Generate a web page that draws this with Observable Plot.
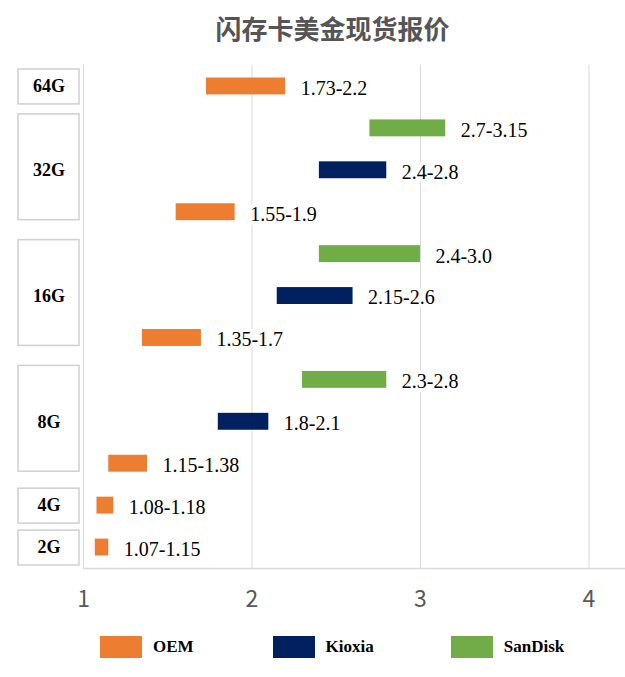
<!DOCTYPE html>
<html>
<head>
<meta charset="utf-8">
<script src="https://cdn.jsdelivr.net/npm/d3@7"></script>
<script src="https://cdn.jsdelivr.net/npm/@observablehq/plot@0.6"></script>
<style>
  html, body { margin: 0; padding: 0; background: white; }
  #wrap { width: 625px; position: relative; }
  #title { height: 50px; line-height: 56px; box-sizing: border-box; padding-left: 40px; text-align: center;
           font-family: "Noto Sans CJK SC", sans-serif; font-size: 26px; color: #555555; font-weight: bold; }
  #chart { position: relative; width: 625px; height: 575px; }
  #chart > svg, #chart > figure { position: absolute; top: 0; left: 0; }
  #legend { display: flex; align-items: center; padding-left: 100px; gap: 0; margin-top: 11px;
            font-family: "Liberation Serif", serif; font-weight: bold; font-size: 17px; color: #000; }
  .item { display: flex; align-items: center; }
  .sw { width: 42px; height: 22px; margin-right: 11px; }
</style>
</head>
<body>
<div id="wrap">
  <div id="title">闪存卡美金现货报价</div>
  <div id="chart"></div>
  <div id="legend"></div>
</div>
<script>
// ---- data ----
const capacities = ["64G", "32G", "16G", "8G", "4G", "2G"];
const rowCapacity = ["64G", "32G", "32G", "32G", "16G", "16G", "16G", "8G", "8G", "8G", "4G", "2G"];
const rowBrand = ["OEM", "SanDisk", "Kioxia", "OEM", "SanDisk", "Kioxia", "OEM", "SanDisk", "Kioxia", "OEM", "OEM", "OEM"];
const priceLow = [1.73, 2.7, 2.4, 1.55, 2.4, 2.15, 1.35, 2.3, 1.8, 1.15, 1.08, 1.07];
const priceHigh = [2.2, 3.15, 2.8, 1.9, 3.0, 2.6, 1.7, 2.8, 2.1, 1.38, 1.18, 1.15];
const priceLabels = ["1.73-2.2", "2.7-3.15", "2.4-2.8", "1.55-1.9", "2.4-3.0", "2.15-2.6", "1.35-1.7", "2.3-2.8", "1.8-2.1", "1.15-1.38", "1.08-1.18", "1.07-1.15"];
const xTicks = [1, 2, 3, 4];
const legendBrands = ["OEM", "Kioxia", "SanDisk"];
const brandColors = ["#ED7D31", "#002060", "#70AD47"];

const rows = rowBrand.map((b, i) => ({
  i, capacity: rowCapacity[i], brand: b, low: priceLow[i], high: priceHigh[i], label: priceLabels[i]
}));
const groups = capacities.map(c => {
  const start = rowCapacity.indexOf(c);
  const n = rowCapacity.filter(d => d === c).length;
  return {name: c, start, end: start + n, n};
});
const nRows = rows.length;

const H = 575, MT = 15, MB = 57;

const main = Plot.plot({
  width: 625, height: H, marginTop: MT, marginBottom: MB, marginLeft: 83, marginRight: 0,
  style: {background: "white", overflow: "visible"},
  x: {domain: [1, 4.217], axis: null},
  y: {domain: [0, nRows], reverse: true, axis: null},
  color: {domain: legendBrands, range: brandColors},
  marks: [
    Plot.gridX(xTicks, {stroke: "#d9d9d9", strokeOpacity: 1, strokeWidth: 1}),
    Plot.ruleY([nRows], {stroke: "#d9d9d9", strokeWidth: 1.5}),
    Plot.axisX(xTicks, {tickSize: 0, tickPadding: 22, fontSize: 23, fontFamily: "Noto Sans CJK SC", color: "#595959", tickFormat: d => String(d), label: null}),
    Plot.rect(rows, {x1: "low", x2: "high", y1: "i", y2: d => d.i + 1, fill: "brand", insetTop: 12.5, insetBottom: 12.5}),
    Plot.text(rows, {x: "high", y: d => d.i + 0.5, text: "label", textAnchor: "start", dx: 15, dy: 2,
      fontSize: 20, fontFamily: "Liberation Serif", fill: "#000", stroke: "white", strokeWidth: 8})
  ]
});

const side = Plot.plot({
  width: 83, height: H, marginTop: MT, marginBottom: MB, marginLeft: 0, marginRight: 0,
  style: {background: "transparent", overflow: "visible"},
  y: {domain: [0, nRows], reverse: true, axis: null},
  marks: [
    Plot.rect(groups.filter(g => g.n === 1), {y1: "start", y2: "end", insetLeft: 18, insetRight: 4, insetTop: 4, insetBottom: 3,
      fill: "white", stroke: "#d0d0d0", strokeWidth: 1.5}),
    Plot.rect(groups.filter(g => g.n > 1), {y1: "start", y2: "end", insetLeft: 18, insetRight: 4, insetTop: 7, insetBottom: 13,
      fill: "white", stroke: "#d0d0d0", strokeWidth: 1.5}),
    Plot.text(groups, {y: d => (d.start + d.end) / 2, text: "name", frameAnchor: "middle", dx: 7, dy: 0,
      fontSize: 18, fontWeight: "bold", fontFamily: "Liberation Serif", fill: "#000"})
  ]
});

const chart = document.getElementById("chart");
chart.appendChild(main);
chart.appendChild(side);

const legend = document.getElementById("legend");
const gaps = [0, 79, 77];
legendBrands.forEach((b, k) => {
  const it = document.createElement("div");
  it.className = "item";
  it.style.marginLeft = gaps[k] + "px";
  const sw = document.createElement("div");
  sw.className = "sw";
  sw.style.background = brandColors[k];
  const t = document.createElement("span");
  t.textContent = b;
  it.appendChild(sw);
  it.appendChild(t);
  legend.appendChild(it);
});
</script>
</body>
</html>
